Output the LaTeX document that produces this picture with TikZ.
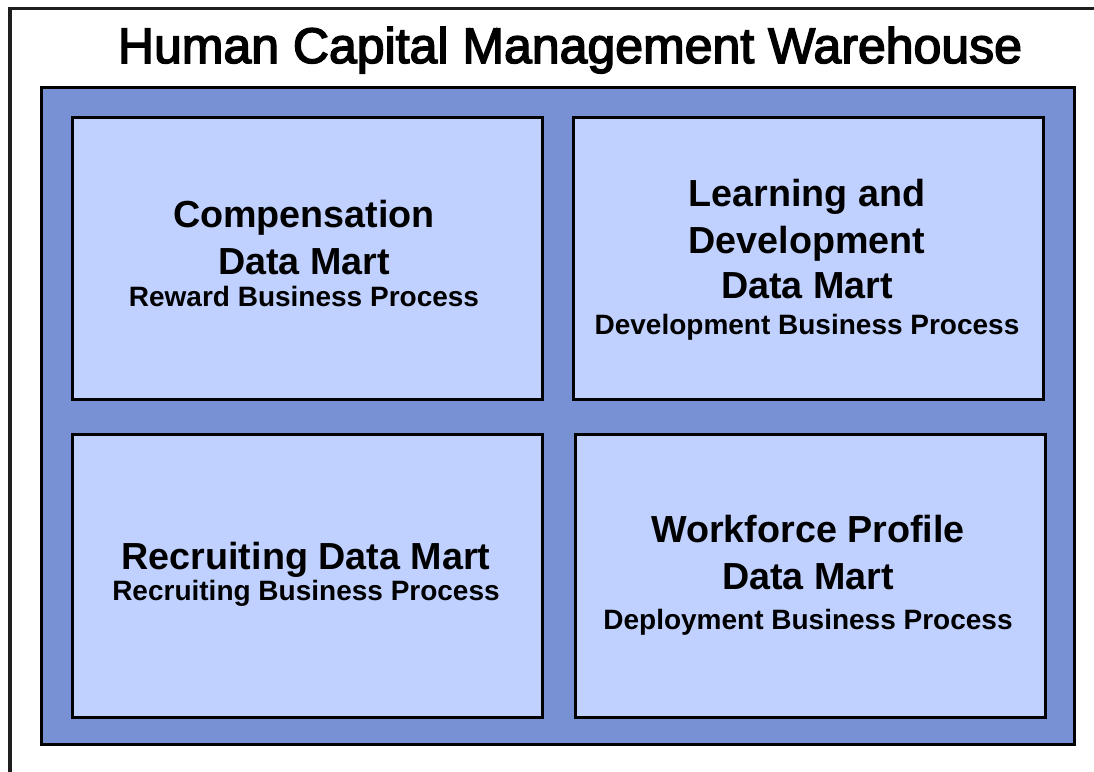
\documentclass[tikz,border=0pt]{standalone}
\usepackage{fontspec}
\setmainfont{Liberation Sans}
\newfontfamily\titlefont[FakeBold=3]{Liberation Sans}
\definecolor{outerblue}{RGB}{120,145,212}
\definecolor{innerblue}{RGB}{192,208,255}
\definecolor{framegray}{RGB}{30,30,30}
\begin{document}
\begin{tikzpicture}[x=1pt,y=-1pt,
  frame/.style={draw=framegray, line width=3.5pt},
  warehouse/.style={draw=black, line width=3pt, fill=outerblue, inner sep=0pt,
    minimum width=1033pt, minimum height=657pt},
  mart/.style={draw=black, line width=3pt, fill=innerblue, inner sep=0pt,
    minimum width=470pt, minimum height=282pt},
  titletxt/.style={font=\titlefont\fontsize{50}{60}\selectfont, inner sep=0pt, anchor=base},
  bigtxt/.style={font=\bfseries\fontsize{37.7}{45}\selectfont, inner sep=0pt, anchor=base},
  smalltxt/.style={font=\bfseries\fontsize{28}{34}\selectfont, inner sep=0pt, anchor=base}
]
\useasboundingbox (0,0) rectangle (1094,771);
\fill[white] (0,0) rectangle (1094,771);
\coordinate (fbl) at (10,772);
\coordinate (ftl) at (10,8.5);
\coordinate (ftr) at (1094,8.5);
\draw[frame] (fbl) -- (ftl) -- (ftr);

\node[titletxt] (title) at (570,63) {Human Capital Management Warehouse};

\node[warehouse] (wh) at (557.5,415.5) {};

\node[mart] (comp) at (307,258) {};
\node[mart] (learn) at (808,258) {};
\node[mart, minimum height=283pt] (recr) at (307,575.5) {};
\node[mart, minimum height=283pt] (work) at (810,575.5) {};

\node[bigtxt] (c1) at (304,227) {Compensation};
\node[bigtxt] (c2) at (304,274) {Data Mart};
\node[smalltxt] (c3) at (304,306) {Reward Business Process};

\node[bigtxt] (l1) at (807,206) {Learning and};
\node[bigtxt] (l2) at (807,253) {Development};
\node[bigtxt] (l3) at (807,298) {Data Mart};
\node[smalltxt] (l4) at (807,334) {Development Business Process};

\node[bigtxt] (r1) at (306,569) {Recruiting Data Mart};
\node[smalltxt] (r2) at (306,600) {Recruiting Business Process};

\node[bigtxt] (w1) at (808,542) {Workforce Profile};
\node[bigtxt] (w2) at (808,589) {Data Mart};
\node[smalltxt] (w3) at (808,629) {Deployment Business Process};
\end{tikzpicture}
\end{document}
